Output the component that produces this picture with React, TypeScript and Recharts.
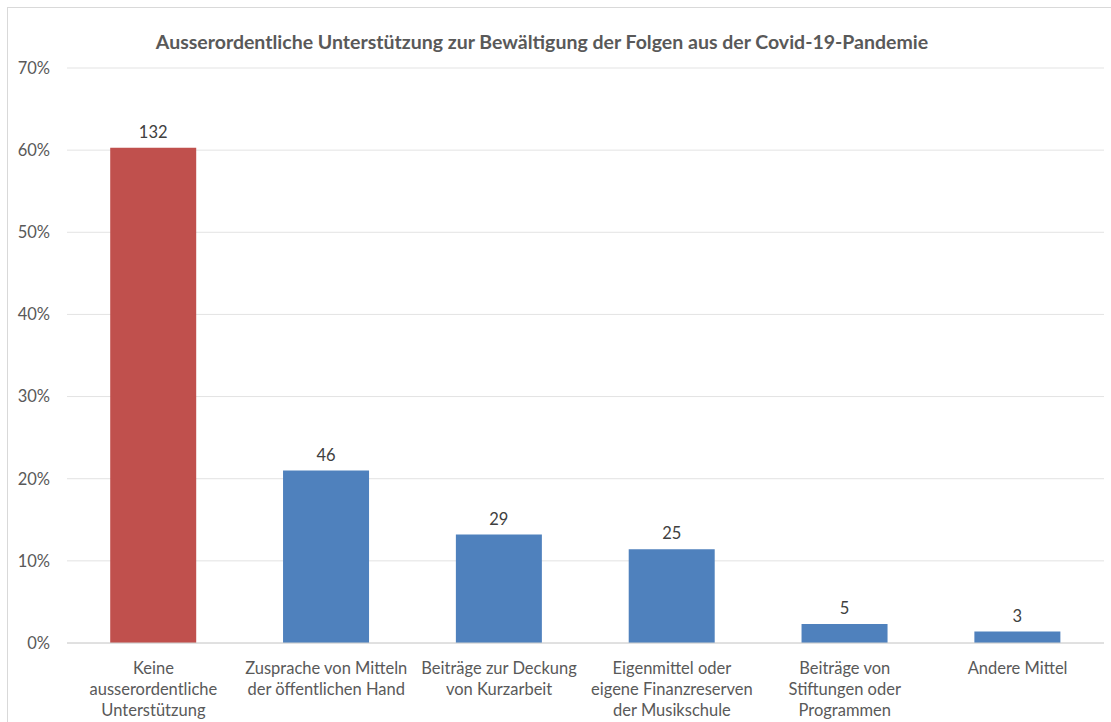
import { BarChart, Bar, XAxis, YAxis, CartesianGrid, Cell, LabelList } from "recharts";

const categories = [
  "Keine\nausserordentliche\nUnterstützung",
  "Zusprache von Mitteln\nder öffentlichen Hand",
  "Beiträge zur Deckung\nvon Kurzarbeit",
  "Eigenmittel oder\neigene Finanzreserven\nder Musikschule",
  "Beiträge von\nStiftungen oder\nProgrammen",
  "Andere Mittel",
];
const shares = [0.603, 0.21, 0.132, 0.114, 0.023, 0.014];
const counts = [132, 46, 29, 25, 5, 3];
const yTicks = [0, 0.1, 0.2, 0.3, 0.4, 0.5, 0.6, 0.7];
const barColors = ["#c0504d", "#4f81bd", "#4f81bd", "#4f81bd", "#4f81bd", "#4f81bd"];

const title = "Ausserordentliche Unterstützung zur Bewältigung der Folgen aus der Covid-19-Pandemie";

const data = categories.map((name, i) => ({ name, share: shares[i], count: counts[i] }));

const font = "Lato, 'Open Sans', sans-serif";

function CategoryTick(props: any) {
  const { x, y, payload } = props;
  const lines = String(payload.value).split("\n");
  return (
    <text x={x} y={y + 23} textAnchor="middle" fill="#595959" fontSize={16.5} fontFamily={font}>
      {lines.map((line, i) => (
        <tspan key={i} x={x} dy={i === 0 ? 0 : 21}>
          {line}
        </tspan>
      ))}
    </text>
  );
}

export default function App() {
  return (
    <div
      style={{
        position: "absolute",
        left: 7,
        top: 7,
        width: 1110,
        height: 720,
        border: "1px solid #d9d9d9",
        background: "#fff",
        fontFamily: font,
      }}
    >
      <div
        style={{
          position: "absolute",
          left: 0,
          top: 22,
          width: 1068,
          textAlign: "center",
          fontSize: 19.5,
          fontWeight: 700,
          color: "#595959",
          whiteSpace: "nowrap",
        }}
      >
        {title}
      </div>
      <BarChart
        width={1103}
        height={714}
        data={data}
        margin={{ top: 60, right: 7, bottom: 0, left: 0 }}
        barCategoryGap="25%"
      >
        <CartesianGrid vertical={false} stroke="#e3e3e3" />
        <XAxis
          dataKey="name"
          height={79}
          interval={0}
          tickLine={false}
          axisLine={{ stroke: "#d0d0d0" }}
          tick={<CategoryTick />}
        />
        <YAxis
          width={59}
          domain={[0, 0.7]}
          ticks={yTicks}
          tickFormatter={(v: number) => `${Math.round(v * 100)}%`}
          axisLine={false}
          tickLine={false}
          tickSize={0}
          tickMargin={17}
          tick={{ fill: "#595959", fontSize: 16.5, fontFamily: font }}
        />
        <Bar dataKey="share" isAnimationActive={false}>
          {data.map((d, i) => (
            <Cell key={d.name} fill={barColors[i]} />
          ))}
          <LabelList
            dataKey="count"
            position="top"
            offset={10}
            fill="#404040"
            fontSize={16.5}
            fontFamily={font}
          />
        </Bar>
      </BarChart>
    </div>
  );
}
